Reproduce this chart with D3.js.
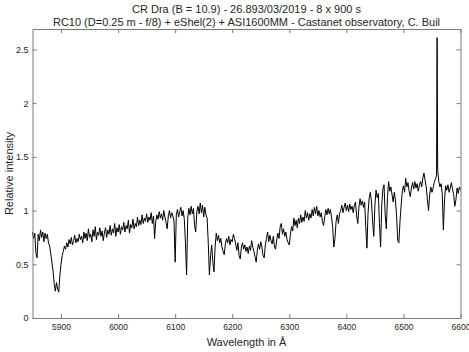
<!DOCTYPE html>
<html><head><meta charset="utf-8">
<script src="https://cdn.jsdelivr.net/npm/d3@7"></script>
<style>
html,body{margin:0;padding:0;background:#fff;}
svg text{font-family:"Liberation Sans",Arial,Helvetica,sans-serif;fill:#262626;}
</style></head>
<body><svg id="c" width="469" height="352"></svg>
<script>
const titleLines = [
  "CR Dra (B = 10.9) - 26.893/03/2019 - 8 x 900 s",
  "RC10 (D=0.25 m - f/8) + eShel(2) + ASI1600MM - Castanet observatory, C. Buil"
];
const xLabel = "Wavelength in Å";
const yLabel = "Relative intensity";
const xTicks = [5900, 6000, 6100, 6200, 6300, 6400, 6500, 6600];
const yTicks = [0, 0.5, 1, 1.5, 2, 2.5];
const xDomain = [5850, 6600];
const yDomain = [0, 2.69];

const wavelength = [
5850,5852,5854,5856,5858,5860,5862,5864,5866,5868,
5870,5872,5874,5876,5878,5880,5882,5884,5886,5888,
5890,5892,5894,5896,5898,5900,5902,5904,5906,5908,
5910,5912,5914,5916,5918,5920,5922,5924,5926,5928,
5930,5932,5934,5936,5938,5940,5942,5944,5946,5948,
5950,5952,5954,5956,5958,5960,5962,5964,5966,5968,
5970,5972,5974,5976,5978,5980,5982,5984,5986,5988,
5990,5992,5994,5996,5998,6000,6002,6004,6006,6008,
6010,6012,6014,6016,6018,6020,6022,6024,6026,6028,
6030,6032,6034,6036,6038,6040,6042,6044,6046,6048,
6050,6052,6054,6056,6058,6060,6062,6064,6066,6068,
6070,6072,6074,6076,6078,6080,6082,6084,6086,6088,
6090,6092,6094,6096,6098,6100,6102,6104,6106,6108,
6110,6112,6114,6116,6118,6120,6122,6124,6126,6128,
6130,6132,6134,6136,6138,6140,6142,6144,6146,6148,
6150,6152,6154,6156,6158,6160,6162,6164,6166,6168,
6170,6172,6174,6176,6178,6180,6182,6184,6186,6188,
6190,6192,6194,6196,6198,6200,6202,6204,6206,6208,
6210,6212,6214,6216,6218,6220,6222,6224,6226,6228,
6230,6232,6234,6236,6238,6240,6242,6244,6246,6248,
6250,6252,6254,6256,6258,6260,6262,6264,6266,6268,
6270,6272,6274,6276,6278,6280,6282,6284,6286,6288,
6290,6292,6294,6296,6298,6300,6302,6304,6306,6308,
6310,6312,6314,6316,6318,6320,6322,6324,6326,6328,
6330,6332,6334,6336,6338,6340,6342,6344,6346,6348,
6350,6352,6354,6356,6358,6360,6362,6364,6366,6368,
6370,6372,6374,6376,6378,6380,6382,6384,6386,6388,
6390,6392,6394,6396,6398,6400,6402,6404,6406,6408,
6410,6412,6414,6416,6418,6420,6422,6424,6426,6428,
6430,6432,6434,6436,6438,6440,6442,6444,6446,6448,
6450,6452,6454,6456,6458,6460,6462,6464,6466,6468,
6470,6472,6474,6476,6478,6480,6482,6484,6486,6488,
6490,6492,6494,6496,6498,6500,6502,6504,6506,6508,
6510,6512,6514,6516,6518,6520,6522,6524,6526,6528,
6530,6532,6534,6536,6538,6540,6542,6544,6546,6548,
6550,6552,6554,6556,6558,6559,6560,6562,6564,6566,6568,
6570,6572,6574,6576,6578,6580,6582,6584,6586,6588,
6590,6592,6594,6596,6598,6600
];
const intensity = [
0.80,0.74,0.79,0.60,0.56,0.78,0.72,0.82,0.75,0.80,
0.71,0.79,0.74,0.78,0.70,0.67,0.60,0.52,0.44,0.32,
0.25,0.33,0.27,0.24,0.40,0.50,0.58,0.62,0.67,0.64,
0.70,0.66,0.73,0.69,0.75,0.68,0.72,0.77,0.70,0.74,
0.71,0.78,0.73,0.76,0.70,0.80,0.74,0.79,0.72,0.83,
0.75,0.78,0.71,0.82,0.76,0.85,0.73,0.80,0.77,0.84,
0.76,0.81,0.72,0.79,0.84,0.75,0.82,0.78,0.86,0.77,
0.83,0.79,0.88,0.76,0.84,0.80,0.87,0.78,0.85,0.82,
0.89,0.80,0.86,0.83,0.91,0.79,0.87,0.84,0.92,0.83,
0.88,0.85,0.94,0.86,0.91,0.87,0.96,0.88,0.93,0.90,
0.97,0.89,0.94,0.91,0.98,0.88,0.95,0.74,0.90,0.96,
0.92,0.99,0.93,0.97,0.91,1.00,0.94,0.89,0.83,0.95,
1.00,0.93,0.98,0.95,0.90,0.52,0.96,1.01,0.94,0.99,
1.03,0.95,1.00,0.92,0.70,0.40,0.93,1.02,0.96,1.04,
0.97,1.02,0.86,0.80,0.99,1.04,0.97,1.07,0.98,1.05,
0.94,1.03,0.96,0.93,0.70,0.40,0.58,0.68,0.52,0.43,
0.66,0.79,0.72,0.77,0.70,0.74,0.66,0.62,0.59,0.69,
0.74,0.70,0.76,0.68,0.73,0.71,0.78,0.74,0.69,0.63,
0.70,0.58,0.55,0.66,0.70,0.64,0.68,0.62,0.66,0.60,
0.67,0.63,0.72,0.66,0.62,0.57,0.52,0.63,0.69,0.64,
0.71,0.66,0.58,0.56,0.68,0.74,0.80,0.71,0.77,0.72,
0.69,0.76,0.66,0.64,0.73,0.79,0.74,0.85,0.88,0.78,
0.83,0.76,0.80,0.73,0.70,0.68,0.78,0.85,0.81,0.93,
0.86,0.91,0.84,0.93,0.88,0.96,0.89,0.94,0.90,1.00,
0.93,0.98,0.91,0.97,0.93,1.01,0.95,1.03,0.97,1.04,
0.95,1.00,0.94,0.98,0.90,0.86,0.94,1.01,0.96,1.02,
0.97,1.01,0.94,0.85,0.66,0.74,0.90,0.96,0.88,0.97,
1.00,1.05,0.98,1.03,1.07,1.00,1.05,0.99,1.06,1.01,
1.04,0.98,1.05,1.08,0.95,0.88,1.03,1.11,1.05,1.09,
1.03,1.08,0.85,0.65,0.98,1.12,1.17,1.08,0.90,0.76,
1.05,1.19,1.12,1.16,0.88,0.66,1.05,1.20,1.24,0.96,
0.83,1.12,1.27,1.18,1.22,1.15,1.08,1.17,1.10,0.95,
0.72,0.70,0.90,1.05,1.18,1.23,1.17,1.30,1.22,1.26,
1.18,1.13,1.21,1.26,1.20,1.27,1.21,1.25,1.18,1.24,
1.27,1.22,1.30,1.35,1.28,1.22,1.10,1.00,1.15,1.22,
1.17,1.21,1.26,1.29,1.33,2.61,1.38,1.27,1.22,1.25,1.16,
0.82,1.10,1.23,1.19,1.24,1.17,1.21,1.26,1.20,1.15,
1.04,1.10,1.21,1.16,1.22,1.19
];

const W = 469, H = 352;
const m = {left: 32.5, right: 8.5, top: 29, bottom: 34};
const svg = d3.select("#c");
const x = d3.scaleLinear().domain(xDomain).range([m.left, W - m.right]);
const y = d3.scaleLinear().domain(yDomain).range([H - m.bottom, m.top]);

const data = wavelength.map((w, i) => [w, intensity[i]]);
svg.append("path")
  .datum(data)
  .attr("fill", "none")
  .attr("stroke", "#000")
  .attr("stroke-width", 1)
  .attr("stroke-linejoin", "round")
  .attr("d", d3.line().x(d => x(d[0])).y(d => y(d[1])));

const axColor = "#7a7a7a";
function style(g, labels, fs) {
  g.select(".domain").attr("stroke", axColor).attr("stroke-width", 1);
  g.selectAll(".tick line").attr("stroke", axColor);
  g.selectAll(".tick text").attr("fill", "#262626").style("font-size", fs)
    .attr("font-family", null);
  if (!labels) g.selectAll(".tick text").remove();
}
const tickLen = -4;
svg.append("g").attr("transform", `translate(0,${H - m.bottom})`)
  .call(d3.axisBottom(x).tickValues(xTicks).tickSize(tickLen).tickSizeOuter(0).tickPadding(6).tickFormat(d3.format("d")))
  .call(g => style(g, true, "8.5px"));
svg.append("g").attr("transform", `translate(0,${m.top})`)
  .call(d3.axisTop(x).tickValues(xTicks).tickSize(tickLen).tickSizeOuter(0))
  .call(g => style(g, false, "8.5px"));
svg.append("g").attr("transform", `translate(${m.left},0)`)
  .call(d3.axisLeft(y).tickValues(yTicks).tickSize(tickLen).tickSizeOuter(0).tickPadding(4).tickFormat(d => String(d)))
  .call(g => style(g, true, "9px"));
svg.append("g").attr("transform", `translate(${W - m.right},0)`)
  .call(d3.axisRight(y).tickValues(yTicks).tickSize(tickLen).tickSizeOuter(0))
  .call(g => style(g, false, "9px"));

svg.selectAll("text.title").data(titleLines).join("text")
  .attr("class", "title")
  .attr("x", (m.left + W - m.right) / 2)
  .attr("y", (d, i) => 13 + i * 13)
  .attr("text-anchor", "middle")
  .style("font-size", "11px")
  .text(d => d);

svg.append("text")
  .attr("x", (m.left + W - m.right) / 2)
  .attr("y", 346)
  .attr("text-anchor", "middle")
  .style("font-size", "11px")
  .text(xLabel);

svg.append("text")
  .attr("transform", `translate(13,${(m.top + H - m.bottom) / 2}) rotate(-90)`)
  .attr("text-anchor", "middle")
  .style("font-size", "11px")
  .text(yLabel);
</script></body></html>
